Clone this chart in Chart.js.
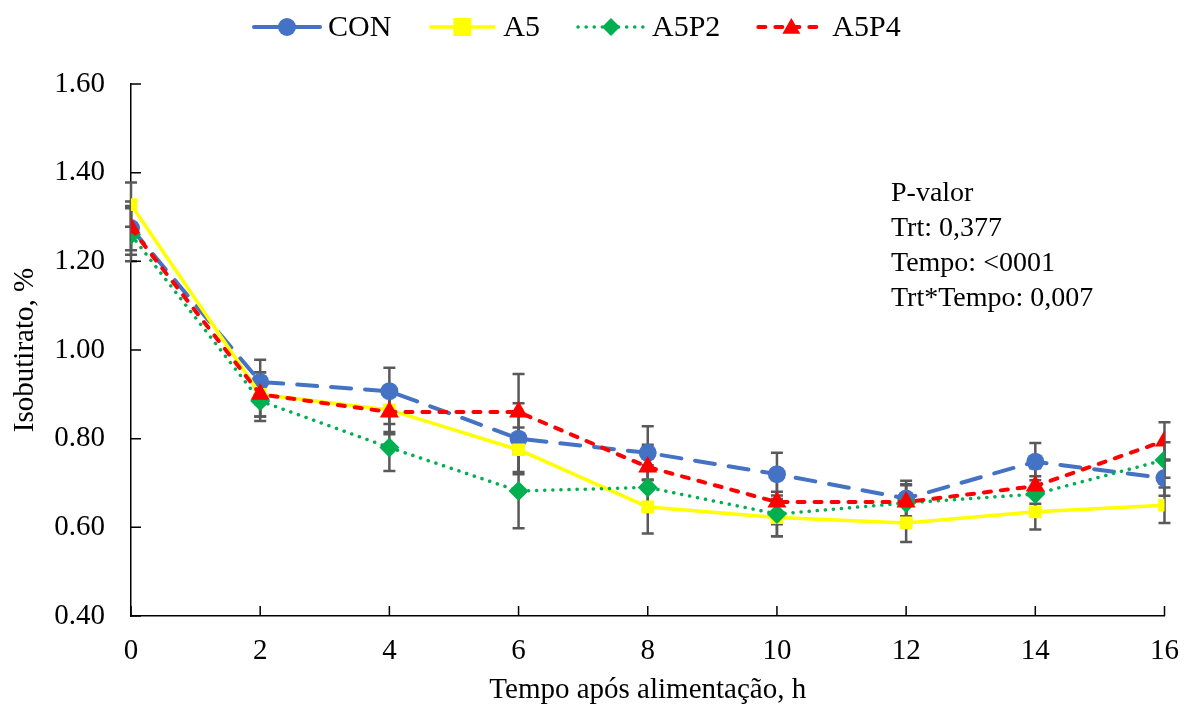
<!DOCTYPE html>
<html>
<head>
<meta charset="utf-8">
<script src="https://cdn.jsdelivr.net/npm/chart.js@4/dist/chart.umd.min.js"></script>
<style>
  html, body { margin: 0; padding: 0; background: #fff; }
  #wrap { width: 1197px; height: 716px; position: relative; }
</style>
</head>
<body>
<div id="wrap"><canvas id="isoChart"></canvas></div>
<script>
// horas apos alimentacao
var hours = [0, 2, 4, 6, 8, 10, 12, 14, 16];

var conVals  = [1.275, 0.928, 0.907, 0.800, 0.768, 0.720, 0.665, 0.748, 0.711];
var a5Vals   = [1.328, 0.900, 0.865, 0.775, 0.646, 0.622, 0.610, 0.635, 0.650];
var a5p2Vals = [1.260, 0.885, 0.780, 0.682, 0.690, 0.630, 0.655, 0.675, 0.752];
var a5p4Vals = [1.275, 0.900, 0.860, 0.860, 0.736, 0.657, 0.657, 0.693, 0.795];

// erro padrao
var conErr  = [0.06, 0.050, 0.053, 0.080, 0.060, 0.048, 0.040, 0.042, 0.040];
var a5Err   = [0.05, 0.050, 0.050, 0.050, 0.060, 0.042, 0.043, 0.040, 0.040];
var a5p2Err = [0.06, 0.045, 0.053, 0.084, 0.050, 0.050, 0.040, 0.040, 0.040];
var a5p4Err = [0.05, 0.050, 0.050, 0.086, 0.050, 0.050, 0.040, 0.040, 0.042];

var seriesNames = ['CON', 'A5', 'A5P2', 'A5P4'];
var yTicks = [0.40, 0.60, 0.80, 1.00, 1.20, 1.40, 1.60];
var pValueLines = ['P-valor', 'Trt: 0,377', 'Tempo: <0001', 'Trt*Tempo: 0,007'];

var FONT = '"Liberation Serif", "Times New Roman", serif';

function pts(vals) {
    var out = [];
    for (var i = 0; i < hours.length; i++) out.push({x: hours[i], y: vals[i]});
    return out;
}

var datasets = [
    {label: seriesNames[0], data: pts(conVals), err: conErr, order: 4,
     borderColor: '#4472C4', backgroundColor: '#4472C4', borderWidth: 4,
     borderDash: [20, 14], borderCapStyle: 'round', legendDash: [],
     pointStyle: 'circle', pointRadius: 9},
    {label: seriesNames[1], data: pts(a5Vals), err: a5Err, order: 3,
     borderColor: '#FFFF00', backgroundColor: '#FFFF00', borderWidth: 3.5,
     pointStyle: 'rect', pointRadius: 9},
    {label: seriesNames[2], data: pts(a5p2Vals), err: a5p2Err, order: 2,
     borderColor: '#00B050', backgroundColor: '#00B050', borderWidth: 3.5,
     borderDash: [0.1, 8], borderCapStyle: 'round',
     pointStyle: 'rectRot', pointRadius: 10},
    {label: seriesNames[3], data: pts(a5p4Vals), err: a5p4Err, order: 1,
     borderColor: '#FF0000', backgroundColor: '#FF0000', borderWidth: 4,
     borderDash: [7, 10], borderCapStyle: 'round',
     pointStyle: 'triangle', pointRadius: 11}
];
datasets.forEach(function(d) {
    d.fill = false; d.tension = 0; d.pointBorderWidth = 0;
    d.pointBackgroundColor = d.backgroundColor; d.pointBorderColor = d.backgroundColor;
});

var errorBars = {
    id: 'errorBars',
    beforeDatasetsDraw: function(chart) {
        var ctx = chart.ctx, xs = chart.scales.x, ys = chart.scales.y;
        ctx.save();
        ctx.strokeStyle = '#595959';
        ctx.lineWidth = 2.5;
        chart.data.datasets.forEach(function(ds) {
            ds.data.forEach(function(p, i) {
                var x = xs.getPixelForValue(p.x);
                var top = ys.getPixelForValue(p.y + ds.err[i]);
                var bot = ys.getPixelForValue(p.y - ds.err[i]);
                ctx.beginPath();
                ctx.moveTo(x, top); ctx.lineTo(x, bot);
                ctx.moveTo(x - 6, top); ctx.lineTo(x + 6, top);
                ctx.moveTo(x - 6, bot); ctx.lineTo(x + 6, bot);
                ctx.stroke();
            });
        });
        ctx.restore();
    }
};

var innerTicks = {
    id: 'innerTicks',
    afterDraw: function(chart) {
        var ctx = chart.ctx, a = chart.chartArea;
        ctx.save();
        ctx.strokeStyle = '#000';
        ctx.lineWidth = 1.5;
        ctx.beginPath();
        chart.scales.y.ticks.forEach(function(t) {
            var y = chart.scales.y.getPixelForValue(t.value);
            ctx.moveTo(a.left, y); ctx.lineTo(a.left + 10, y);
        });
        chart.scales.x.ticks.forEach(function(t) {
            var x = chart.scales.x.getPixelForValue(t.value);
            ctx.moveTo(x, a.bottom); ctx.lineTo(x, a.bottom - 10);
        });
        ctx.stroke();
        ctx.restore();
    }
};

function drawMarker(ctx, style, x, y, r, color) {
    ctx.fillStyle = color;
    ctx.beginPath();
    if (style === 'circle') {
        ctx.arc(x, y, r, 0, Math.PI * 2);
    } else if (style === 'rect') {
        ctx.rect(x - r, y - r, 2 * r, 2 * r);
    } else if (style === 'rectRot') {
        ctx.moveTo(x, y - r); ctx.lineTo(x + r, y); ctx.lineTo(x, y + r); ctx.lineTo(x - r, y);
    } else {
        ctx.moveTo(x, y - r); ctx.lineTo(x + r, y + r * 0.75); ctx.lineTo(x - r, y + r * 0.75);
    }
    ctx.closePath();
    ctx.fill();
}

var topLegend = {
    id: 'topLegend',
    afterDraw: function(chart) {
        var ctx = chart.ctx;
        ctx.save();
        ctx.font = '30px ' + FONT;
        ctx.textBaseline = 'middle';
        var x = 252, y = 27;
        chart.data.datasets.forEach(function(ds) {
            ctx.save();
            ctx.strokeStyle = ds.borderColor;
            ctx.lineWidth = ds.borderWidth;
            ctx.lineCap = ds.borderCapStyle || 'butt';
            ctx.setLineDash(ds.legendDash || ds.borderDash || []);
            ctx.beginPath();
            ctx.moveTo(x + 2, y); ctx.lineTo(x + 68, y);
            ctx.stroke();
            ctx.restore();
            drawMarker(ctx, ds.pointStyle, x + 35, y, 9, ds.backgroundColor);
            ctx.fillStyle = '#000';
            ctx.fillText(ds.label, x + 76, y + 1);
            x += 76 + ctx.measureText(ds.label).width + 36;
        });
        // P-valor
        ctx.font = '28px ' + FONT;
        for (var i = 0; i < pValueLines.length; i++) {
            ctx.fillText(pValueLines[i], 891, 194 + i * 35);
        }
        ctx.restore();
    }
};

new Chart(document.getElementById('isoChart'), {
    type: 'line',
    data: {datasets: datasets},
    plugins: [errorBars, innerTicks, topLegend],
    options: {
        responsive: true,
        maintainAspectRatio: false,
        animation: false,
        layout: {padding: {top: 84, right: 31, left: 0, bottom: 0}},
        plugins: {legend: {display: false}, tooltip: {enabled: false}},
        scales: {
            x: {
                type: 'linear', min: 0, max: 16,
                afterFit: function(s) { s.height = 100; },
                ticks: {stepSize: 2, color: '#000', padding: 18, font: {family: FONT, size: 29}},
                grid: {drawOnChartArea: false, drawTicks: false},
                border: {color: '#000', width: 1.5},
                title: {display: true, text: 'Tempo após alimentação, h', color: '#000',
                        font: {family: FONT, size: 29}, padding: {top: 0, bottom: 8}}
            },
            y: {
                min: 0.4, max: 1.6,
                afterFit: function(s) { s.width = 131; },
                afterBuildTicks: function(s) { s.ticks = yTicks.map(function(v) { return {value: v}; }); },
                ticks: {color: '#000', padding: 26, font: {family: FONT, size: 29},
                        callback: function(v) { return Number(v).toFixed(2); }},
                grid: {drawOnChartArea: false, drawTicks: false},
                border: {color: '#000', width: 1.5},
                title: {display: true, text: 'Isobutirato, %', color: '#000',
                        font: {family: FONT, size: 29}, padding: {top: 8, bottom: 0}}
            }
        }
    }
});
</script>
</body>
</html>
